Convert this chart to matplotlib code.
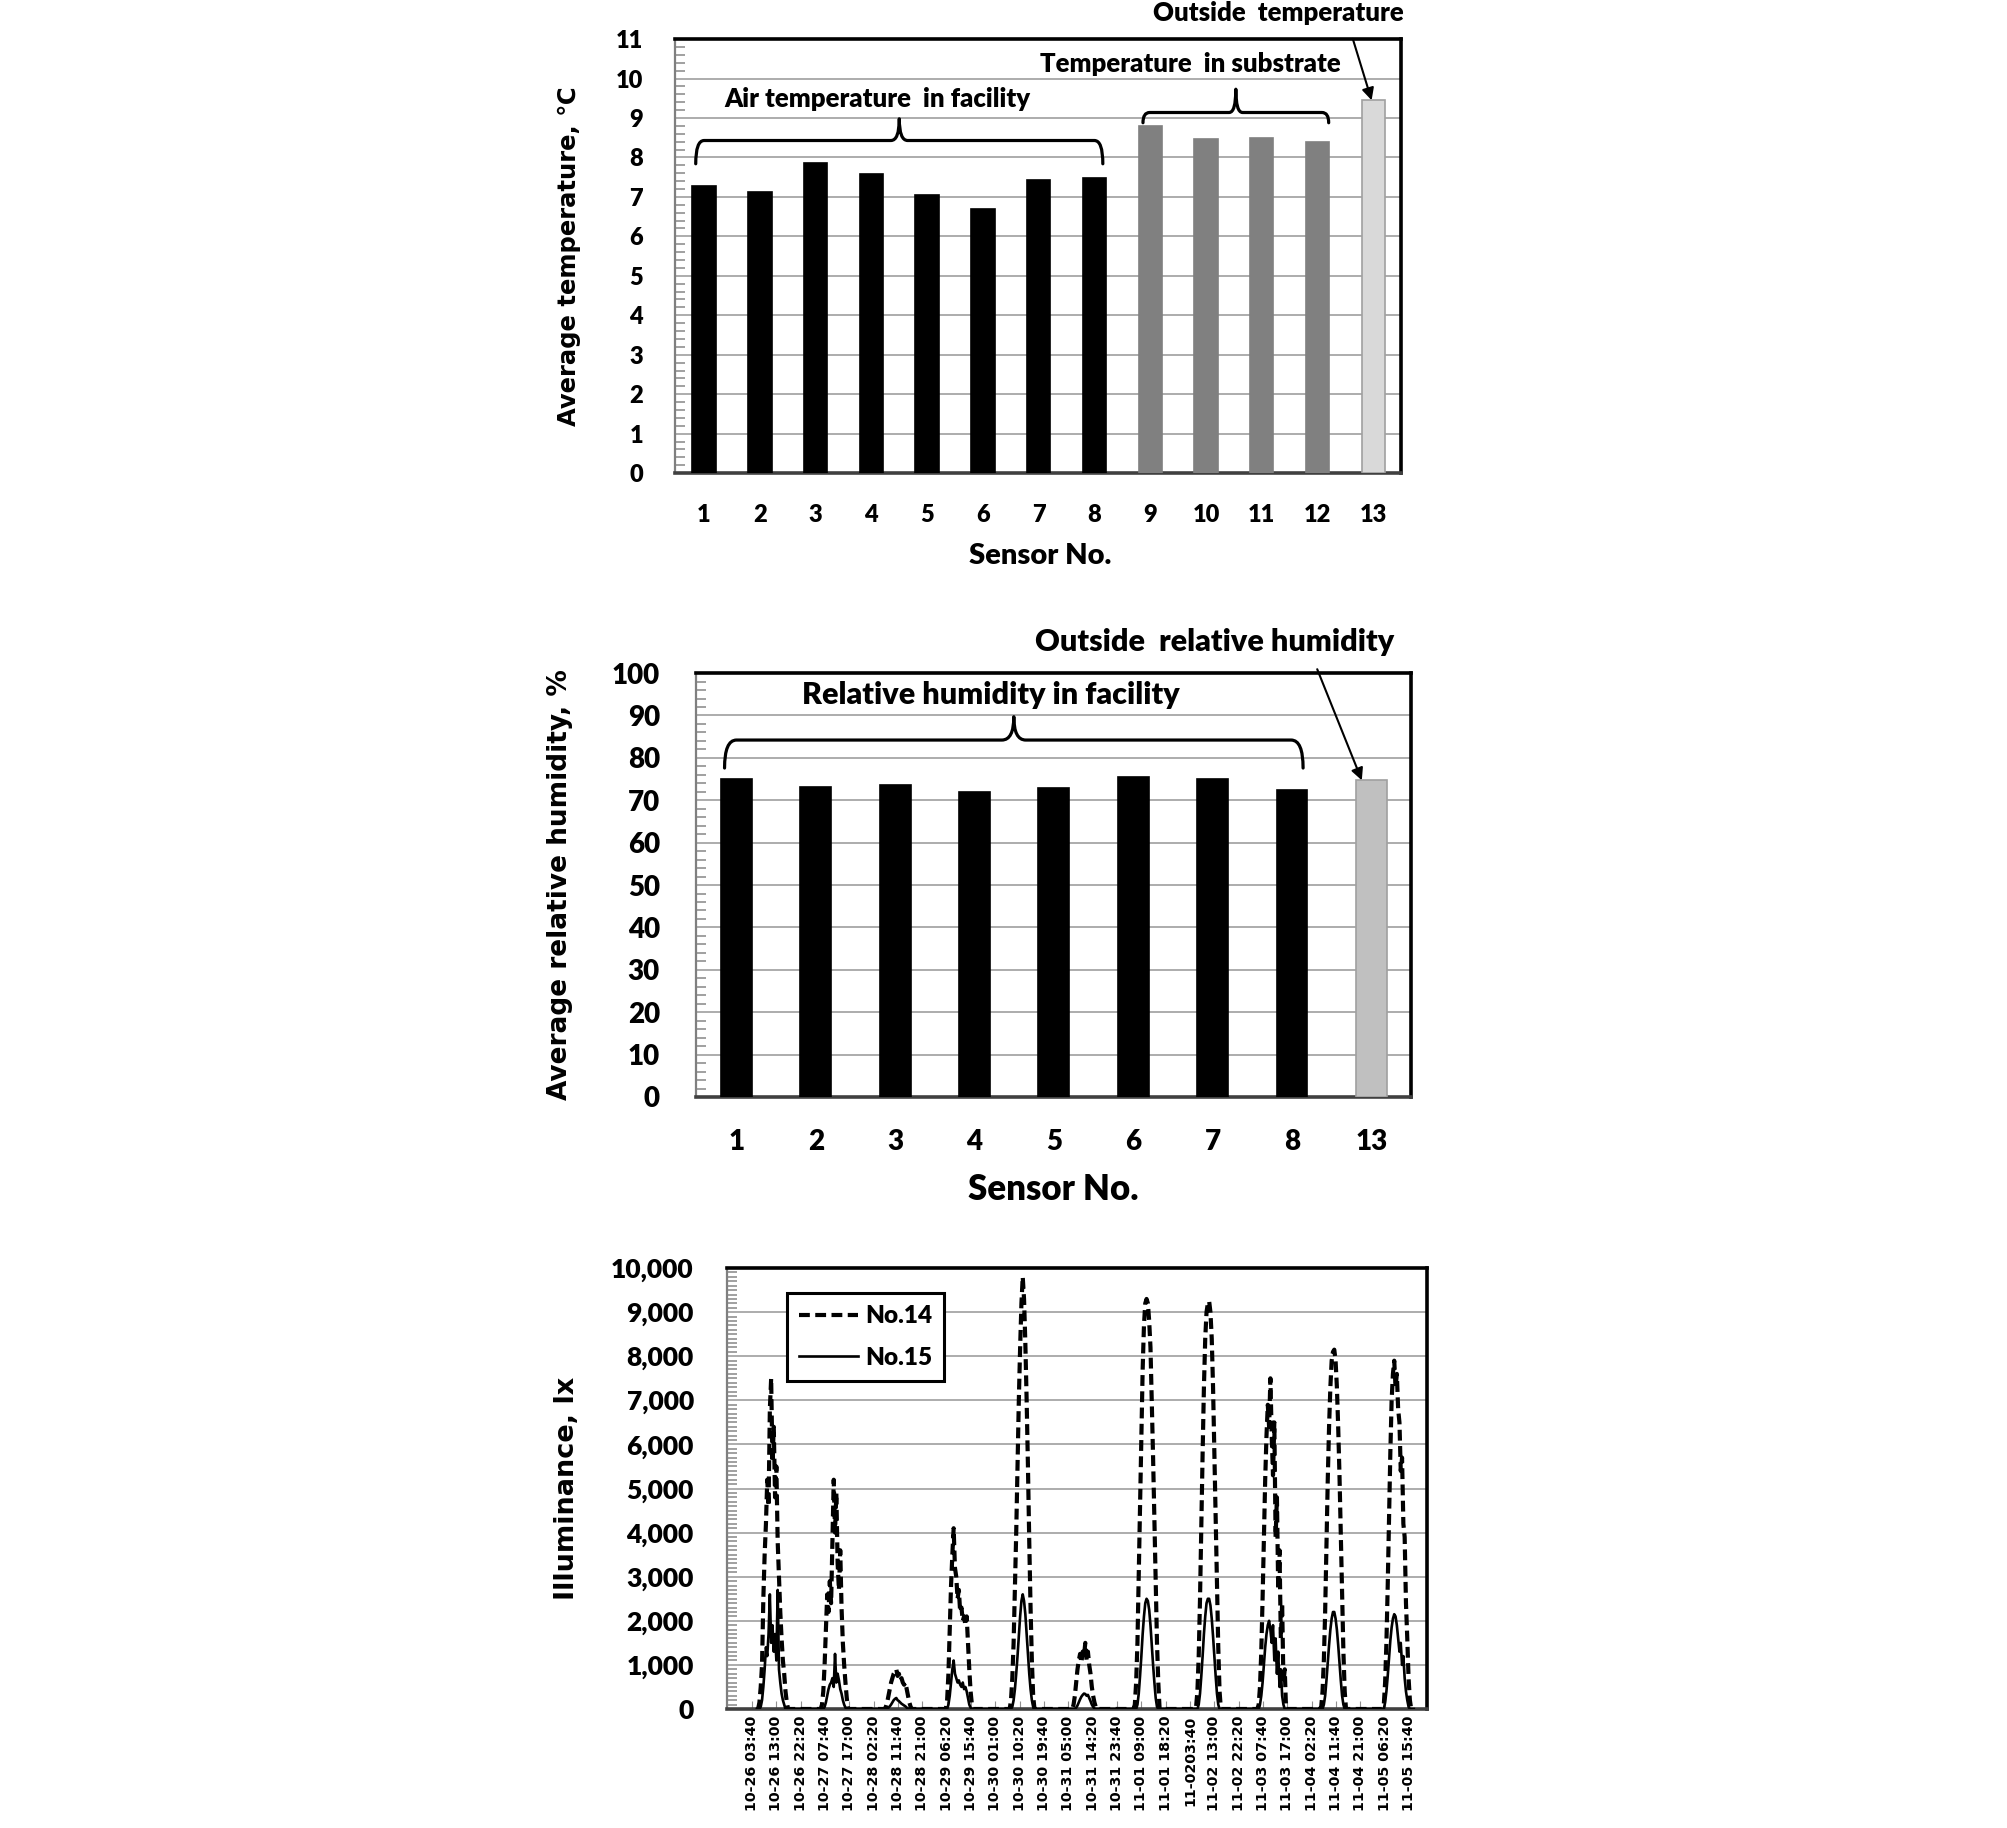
import numpy as np
import pandas as pd
import matplotlib
matplotlib.use('Agg')
import matplotlib.pyplot as plt
from matplotlib.path import Path
from matplotlib.patches import PathPatch
from matplotlib.ticker import MultipleLocator, FuncFormatter

# ---------------- data ----------------
# top: average temperature per sensor
temp_sensors = ['1', '2', '3', '4', '5', '6', '7', '8', '9', '10', '11', '12', '13']
temp_values = [7.28, 7.12, 7.86, 7.57, 7.04, 6.69, 7.43, 7.49, 8.80, 8.46, 8.49, 8.39, 9.45]

# middle: average relative humidity per sensor
rh_sensors = ['1', '2', '3', '4', '5', '6', '7', '8', '13']
rh_values = [75.0, 73.2, 73.5, 72.0, 72.8, 75.4, 75.0, 72.4, 74.7]

# bottom: illuminance, daytime readings (night = 0)
days = ['10-26', '10-27', '10-28', '10-29', '10-30', '10-31',
        '11-01', '11-02', '11-03', '11-04', '11-05']
hours = [5.5, 6.0, 6.5, 7.0, 7.5, 8.0, 8.5, 9.0, 9.5, 10.0, 10.5, 11.0, 11.5,
         12.0, 12.5, 13.0, 13.5, 14.0, 14.5, 15.0, 15.5, 16.0, 16.5, 17.0, 17.5]

lux_no14 = [
    [0, 0, 150, 500, 1000, 2500, 3500, 4200, 5200, 4600, 6800, 7500, 5600, 6400, 4800, 5500, 3800, 3000, 2200, 1600, 1100, 800, 400, 150, 0],
    [0, 0, 100, 400, 1000, 1800, 2600, 2200, 2900, 2400, 3800, 5200, 4000, 4900, 3300, 2700, 3600, 2300, 1500, 1000, 600, 250, 0, 0, 0],
    [0, 0, 0, 50, 150, 300, 450, 600, 700, 800, 850, 900, 750, 800, 650, 700, 600, 550, 600, 450, 300, 150, 50, 0, 0],
    [0, 0, 200, 800, 1800, 2800, 3500, 4100, 3200, 3000, 2500, 2700, 2200, 2300, 2000, 2100, 1900, 2100, 1500, 900, 400, 100, 0, 0, 0],
    [0, 0, 0, 200, 700, 1500, 2700, 4000, 5500, 7000, 8200, 9200, 9800, 9300, 8300, 7000, 5500, 3800, 2300, 1100, 300, 0, 0, 0, 0],
    [0, 0, 0, 100, 300, 600, 900, 1100, 1250, 1050, 1300, 1200, 1500, 1100, 1300, 1000, 800, 500, 300, 150, 50, 0, 0, 0, 0],
    [0, 0, 100, 600, 1500, 3000, 4600, 6200, 7700, 8700, 9200, 9300, 9200, 8800, 8200, 7000, 5700, 4300, 2800, 1500, 600, 0, 0, 0, 0],
    [0, 50, 400, 1200, 2500, 4200, 5800, 7300, 8400, 9000, 9200, 9250, 9000, 8400, 7300, 5800, 4300, 2800, 1400, 400, 0, 0, 0, 0, 0],
    [0, 100, 500, 1300, 2500, 3900, 5200, 6200, 6900, 6400, 7500, 6200, 5300, 6500, 3900, 4800, 2700, 3600, 1600, 2400, 600, 900, 0, 0, 0],
    [0, 50, 400, 1100, 2200, 3700, 5200, 6400, 7300, 7900, 8100, 8150, 7900, 7300, 6400, 5300, 4000, 2600, 1300, 400, 0, 0, 0, 0, 0],
    [0, 100, 600, 1500, 2800, 4300, 5800, 7000, 7600, 7900, 7300, 7600, 6800, 6500, 5400, 5700, 4200, 3900, 2400, 1600, 700, 200, 0, 0, 0],
]
lux_no15 = [
    [0, 0, 0, 50, 200, 500, 900, 1400, 1200, 1700, 2600, 1500, 1900, 1300, 1700, 1100, 2700, 900, 600, 350, 200, 100, 0, 0, 0],
    [0, 0, 0, 0, 50, 150, 300, 450, 550, 600, 700, 500, 1250, 600, 800, 650, 450, 350, 200, 100, 30, 0, 0, 0, 0],
    [0, 0, 0, 0, 0, 30, 60, 100, 150, 200, 230, 250, 200, 180, 150, 120, 100, 80, 60, 30, 10, 0, 0, 0, 0],
    [0, 0, 0, 100, 300, 600, 900, 1100, 800, 700, 600, 650, 550, 500, 600, 450, 500, 400, 250, 100, 30, 0, 0, 0, 0],
    [0, 0, 0, 0, 50, 200, 450, 800, 1200, 1650, 2100, 2450, 2600, 2450, 2150, 1700, 1250, 800, 450, 200, 50, 0, 0, 0, 0],
    [0, 0, 0, 0, 0, 30, 80, 150, 220, 280, 320, 350, 340, 300, 320, 250, 180, 100, 50, 10, 0, 0, 0, 0, 0],
    [0, 0, 0, 0, 100, 350, 750, 1200, 1700, 2100, 2400, 2500, 2450, 2250, 1900, 1450, 1000, 600, 250, 50, 0, 0, 0, 0, 0],
    [0, 0, 0, 100, 350, 750, 1200, 1700, 2100, 2400, 2500, 2500, 2350, 2050, 1650, 1200, 750, 350, 100, 0, 0, 0, 0, 0, 0],
    [0, 0, 100, 300, 600, 1000, 1400, 1700, 1900, 2000, 1800, 1500, 1900, 1100, 1600, 800, 1300, 500, 900, 300, 100, 0, 0, 0, 0],
    [0, 0, 0, 100, 300, 650, 1050, 1450, 1800, 2050, 2200, 2200, 2050, 1800, 1450, 1050, 650, 300, 100, 0, 0, 0, 0, 0, 0],
    [0, 0, 150, 400, 750, 1150, 1550, 1850, 2050, 2150, 2100, 1900, 1600, 1300, 1500, 1000, 1200, 700, 400, 200, 50, 0, 0, 0, 0],
]

time_labels = ['10-26 03:40', '10-26 13:00', '10-26 22:20', '10-27 07:40', '10-27 17:00',
               '10-28 02:20', '10-28 11:40', '10-28 21:00', '10-29 06:20', '10-29 15:40',
               '10-30 01:00', '10-30 10:20', '10-30 19:40', '10-31 05:00', '10-31 14:20',
               '10-31 23:40', '11-01 09:00', '11-01 18:20', '11-0203:40', '11-02 13:00',
               '11-02 22:20', '11-03 07:40', '11-03 17:00', '11-04 02:20', '11-04 11:40',
               '11-04 21:00', '11-05 06:20', '11-05 15:40']

# ---------------- style ----------------
TXT = 'Lato'
LAB = 'DejaVu Sans'
WT = 'heavy'
GRID = '#a6a6a6'


def style_axes(ax, minor_step, ypad):
    ax.set_axisbelow(True)
    ax.yaxis.grid(True, color=GRID, lw=1.3)
    ax.yaxis.set_minor_locator(MultipleLocator(minor_step))
    ax.tick_params(axis='y', which='major', length=0, pad=ypad)
    ax.tick_params(axis='y', which='minor', direction='in', length=7,
                   color='#909090', width=1.2)
    for s in ('top', 'right'):
        ax.spines[s].set_color('black')
        ax.spines[s].set_linewidth(2.6)
    ax.spines['bottom'].set_color('#404040')
    ax.spines['bottom'].set_linewidth(2.6)
    ax.spines['left'].set_color('#7f7f7f')
    ax.spines['left'].set_linewidth(1.6)


def brace(ax, x0, x1, y, y_end, y_tip, dx):
    xm = (x0 + x1) / 2.0
    verts = [(x0, y_end), (x0, y), (x0 + dx, y), (xm - dx, y), (xm, y), (xm, y_tip),
             (xm, y), (xm + dx, y), (x1 - dx, y), (x1, y), (x1, y_end)]
    codes = [Path.MOVETO, Path.CURVE3, Path.CURVE3, Path.LINETO, Path.CURVE3, Path.CURVE3,
             Path.CURVE3, Path.CURVE3, Path.LINETO, Path.CURVE3, Path.CURVE3]
    ax.add_patch(PathPatch(Path(verts, codes), fill=False, lw=2.3, color='black',
                           capstyle='round', joinstyle='round', clip_on=False))


def tick_font(ax, size):
    for t in ax.get_xticklabels() + ax.get_yticklabels():
        t.set_fontfamily(TXT)
        t.set_fontweight(WT)
        t.set_fontsize(size)


fig = plt.figure(figsize=(20.08, 18.28), dpi=100)

# ---------------- top panel ----------------
ax1 = fig.add_axes([0.3362, 0.7412, 0.3616, 0.2374])
x1 = np.arange(len(temp_sensors))
c1 = ['black'] * 8 + ['#808080'] * 4 + ['#d9d9d9']
e1 = ['black'] * 8 + ['#808080'] * 4 + ['#a0a0a0']
ax1.bar(x1, temp_values, width=0.42, color=c1, edgecolor=e1, lw=1.2, zorder=3)
ax1.set_xlim(-0.52, 12.5)
ax1.set_ylim(0, 11)
ax1.set_yticks(range(0, 12))
ax1.set_xticks(x1)
ax1.set_xticklabels(temp_sensors)
style_axes(ax1, 0.2, 23)
ax1.tick_params(axis='x', length=0, pad=22)
tick_font(ax1, 17)
ax1.set_xlabel('Sensor No.', fontfamily=TXT, fontweight=WT, fontsize=21)
ax1.xaxis.set_label_coords(0.503, -0.16)
ax1.set_ylabel('Average temperature, ℃', fontfamily=LAB, fontweight='bold', fontsize=17.5)
ax1.yaxis.set_label_coords(-0.13, 0.5)

brace(ax1, -0.15, 7.15, 8.43, 7.84, 8.98, 0.15)
ax1.text(3.1, 9.47, 'Air temperature  in facility', ha='center', va='center',
         fontfamily=TXT, fontweight=WT, fontsize=18.5)
brace(ax1, 7.87, 11.2, 9.14, 8.88, 9.73, 0.12)
ax1.text(8.72, 10.38, 'Temperature  in substrate', ha='center', va='center',
         fontfamily=TXT, fontweight=WT, fontsize=18.5)
ax1.annotate('Outside  temperature', xy=(11.97, temp_values[12]), xytext=(10.3, 11.65),
             ha='center', va='center', fontfamily=TXT, fontweight=WT, fontsize=18.5,
             annotation_clip=False,
             arrowprops=dict(arrowstyle='-|>', color='black', lw=1.5, mutation_scale=18,
                             shrinkA=8, shrinkB=0, relpos=(0.78, 0.0)))

# ---------------- middle panel ----------------
ax2 = fig.add_axes([0.3466, 0.3999, 0.3561, 0.2319])
x2 = np.arange(len(rh_sensors))
c2 = ['black'] * 8 + ['#c0c0c0']
e2 = ['black'] * 8 + ['#a0a0a0']
ax2.bar(x2, rh_values, width=0.39, color=c2, edgecolor=e2, lw=1.2, zorder=3)
ax2.set_xlim(-0.51, 8.5)
ax2.set_ylim(0, 100)
ax2.set_yticks(range(0, 101, 10))
ax2.set_xticks(x2)
ax2.set_xticklabels(rh_sensors)
style_axes(ax2, 2, 26)
ax2.tick_params(axis='x', length=0, pad=23)
tick_font(ax2, 20)
ax2.set_xlabel('Sensor No.', fontfamily=TXT, fontweight=WT, fontsize=25)
ax2.xaxis.set_label_coords(0.5, -0.18)
ax2.set_ylabel('Average relative humidity, %', fontfamily=LAB, fontweight='bold', fontsize=19)
ax2.yaxis.set_label_coords(-0.172, 0.5)

brace(ax2, -0.15, 7.14, 84.2, 77.6, 89.7, 0.15)
ax2.text(3.2, 94.8, 'Relative humidity in facility', ha='center', va='center',
         fontfamily=TXT, fontweight=WT, fontsize=22)
ax2.annotate('Outside  relative humidity', xy=(7.88, rh_values[8]), xytext=(6.03, 107.3),
             ha='center', va='center', fontfamily=TXT, fontweight=WT, fontsize=22,
             annotation_clip=False,
             arrowprops=dict(arrowstyle='-|>', color='black', lw=1.5, mutation_scale=18,
                             shrinkA=8, shrinkB=0, relpos=(0.77, 0.0)))

# ---------------- bottom panel ----------------
ax3 = fig.add_axes([0.3621, 0.0651, 0.3486, 0.2412])
start = pd.Timestamp('2019-10-26')
day_h = [(pd.Timestamp('2019-' + d) - start) / pd.Timedelta(hours=1) for d in days]
t = np.array([dh + h for dh in day_h for h in hours])
y14 = np.array(lux_no14).ravel()
y15 = np.array(lux_no15).ravel()
ax3.plot(t, y14, color='black', lw=3.0, ls=(0, (2.6, 1.3)), label='No.14', zorder=3)
ax3.plot(t, y15, color='black', lw=1.9, ls='-', label='No.15', zorder=3)

tick_h = [(pd.to_datetime('2019-' + s.replace('0203', '02 03'), format='%Y-%m-%d %H:%M') - start)
          / pd.Timedelta(hours=1) for s in time_labels]
ax3.set_xlim(-5.9, 262.6)
ax3.set_ylim(0, 10000)
ax3.set_yticks(range(0, 10001, 1000))
ax3.yaxis.set_major_formatter(FuncFormatter(lambda v, p: f'{v:,.0f}'))
ax3.set_xticks(tick_h)
ax3.set_xticklabels(time_labels, rotation=90, fontfamily=LAB, fontweight='bold', fontsize=10.3)
style_axes(ax3, 100, 24)
ax3.tick_params(axis='x', direction='in', length=6, color='#909090', pad=5)
for tl in ax3.get_yticklabels():
    tl.set_fontfamily(TXT)
    tl.set_fontweight(WT)
    tl.set_fontsize(19)
ax3.set_ylabel('Illuminance, lx', fontfamily=LAB, fontweight='bold', fontsize=19.5)
ax3.yaxis.set_label_coords(-0.21, 0.5)

leg = ax3.legend(loc='upper left', bbox_to_anchor=(0.0857, 0.943), borderaxespad=0,
                 fancybox=False, edgecolor='black', handlelength=2.4, handletextpad=0.3,
                 labelspacing=0.8, borderpad=0.5,
                 prop={'family': TXT, 'weight': WT, 'size': 17.5})
leg.get_frame().set_linewidth(2.2)
leg.get_frame().set_alpha(1)

fig.savefig('out.png', dpi=100, facecolor='white')
